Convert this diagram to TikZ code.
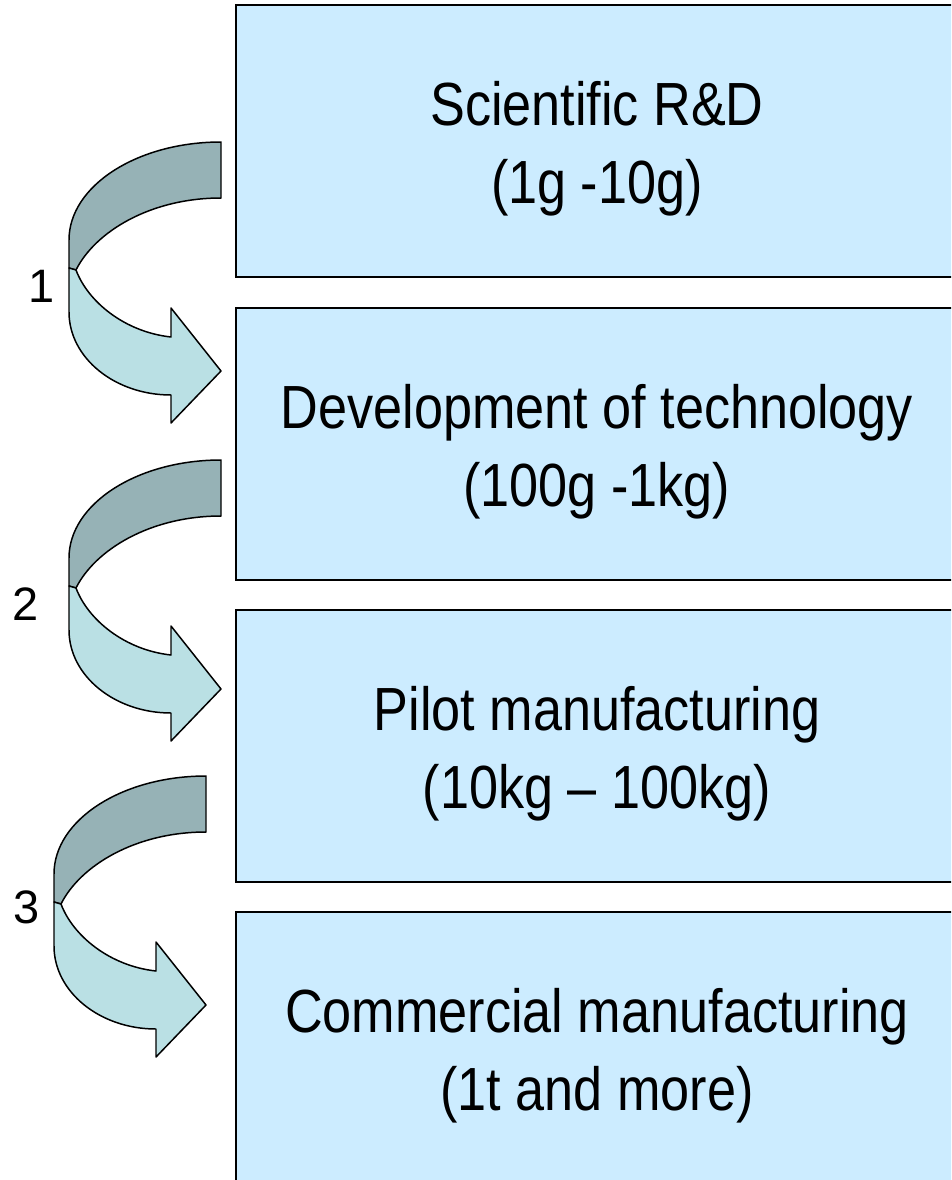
\documentclass[tikz,border=0pt]{standalone}
\usepackage{fontspec}
\setmainfont{Liberation Sans}
\newfontfamily\stageFont{Liberation Sans}[FakeStretch=0.856, Ligatures=TeX]
\usepackage{tikz}

\definecolor{stageBlue}{HTML}{CCECFF}
\definecolor{bandDark}{HTML}{96B2B6}
\definecolor{bandLight}{HTML}{BAE0E4}

\begin{document}
\begin{tikzpicture}[x=0.02cm, y=-0.02cm,
        stageBox/.style={draw=black, line width=1.2pt, fill=stageBlue},
        stageText/.style={align=center, inner sep=0pt,
            font=\stageFont\fontsize{34.7}{44.4}\selectfont},
        stepLabel/.style={inner sep=0pt, font=\fontsize{26.7}{32}\selectfont},
        backBand/.style={draw=black, line width=0.85pt, fill=bandDark, line join=round},
        frontBand/.style={draw=black, line width=0.85pt, fill=bandLight, line join=round}]
        \pgfmathsetmacro{\boxLeft}{236}
        \pgfmathsetmacro{\boxRight}{975}
        \pgfmathsetmacro{\boxHeight}{272}
        \pgfmathsetmacro{\textX}{597}
        \pgfmathsetmacro{\textDrop}{144}

        \clip (0, 0) rectangle (951, 1180);

        \draw[stageBox] (\boxLeft, 5) rectangle (\boxRight, 5 + \boxHeight);
        \draw[stageBox] (\boxLeft, 308) rectangle (\boxRight, 308 + \boxHeight);
        \draw[stageBox] (\boxLeft, 610) rectangle (\boxRight, 610 + \boxHeight);
        \draw[stageBox] (\boxLeft, 912) rectangle (\boxRight, 912 + \boxHeight);

        \node[stageText] (rnd) at (\textX, 5 + \textDrop) {Scientific R\&D\\(1g -10g)};
        \node[stageText] (tech) at (\textX, 308 + \textDrop) {Development of technology\\(100g -1kg)};
        \node[stageText] (pilot) at (\textX, 610 + \textDrop) {Pilot manufacturing\\(10kg \textendash{} 100kg)};
        \node[stageText] (commercial) at (\textX, 912 + \textDrop) {Commercial manufacturing\\(1t and more)};

        % turning arrows between the stages
        \begin{scope}[shift={(0, 0)}]
            \draw[backBand] (221, 142) .. controls (137, 142) and (69, 186) .. (69, 240) --
                (69, 268) -- (76, 270) .. controls (95, 232) and (150, 198) .. (221, 198) -- cycle;
            \draw[frontBand] (76, 270) .. controls (88, 302) and (125, 332) .. (171, 337) --
                (171, 308) -- (221, 371) -- (171, 423) -- (171, 395)
                .. controls (115, 395) and (69, 358) .. (69, 312) -- (69, 268) -- cycle;
        \end{scope}
        \begin{scope}[shift={(0, 318)}]
            \draw[backBand] (221, 142) .. controls (137, 142) and (69, 186) .. (69, 240) --
                (69, 268) -- (76, 270) .. controls (95, 232) and (150, 198) .. (221, 198) -- cycle;
            \draw[frontBand] (76, 270) .. controls (88, 302) and (125, 332) .. (171, 337) --
                (171, 308) -- (221, 371) -- (171, 423) -- (171, 395)
                .. controls (115, 395) and (69, 358) .. (69, 312) -- (69, 268) -- cycle;
        \end{scope}
        \begin{scope}[shift={(-15, 634)}]
            \draw[backBand] (221, 142) .. controls (137, 142) and (69, 186) .. (69, 240) --
                (69, 268) -- (76, 270) .. controls (95, 232) and (150, 198) .. (221, 198) -- cycle;
            \draw[frontBand] (76, 270) .. controls (88, 302) and (125, 332) .. (171, 337) --
                (171, 308) -- (221, 371) -- (171, 423) -- (171, 395)
                .. controls (115, 395) and (69, 358) .. (69, 312) -- (69, 268) -- cycle;
        \end{scope}

        \node[stepLabel] (lbl1) at (42, 286) {1};
        \node[stepLabel] (lbl2) at (26, 604) {2};
        \node[stepLabel] (lbl3) at (27, 907) {3};
    \end{tikzpicture}
\end{document}
